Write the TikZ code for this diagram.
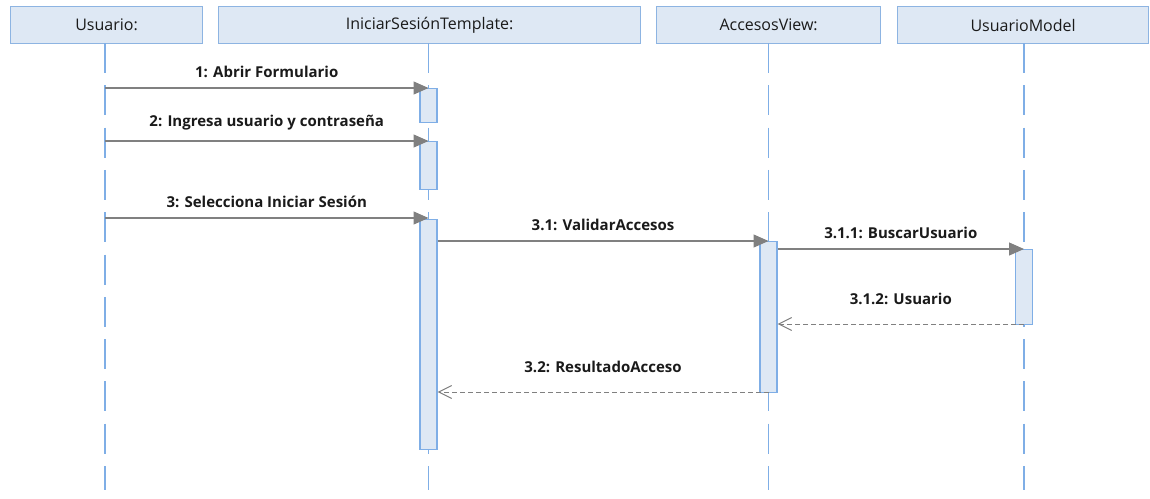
\documentclass[tikz,border=0pt]{standalone}
\usepackage{fontspec}
\setmainfont{Open Sans}
\usetikzlibrary{arrows.meta}
\definecolor{hdrfill}{HTML}{DEE8F4}
\definecolor{hdrline}{HTML}{8DB4E2}
\definecolor{lifeblue}{HTML}{7FAEE6}
\definecolor{msggray}{HTML}{808080}
\definecolor{txt}{HTML}{1A1A1A}
\tikzset{
  hdr/.style={draw=hdrline, fill=hdrfill, line width=1.2pt, minimum height=37pt, inner sep=0pt, anchor=north west, font=\fontsize{16}{18}\selectfont, text=txt},
  life/.style={draw=lifeblue, line width=1.2pt, dash pattern=on 30pt off 12.3pt},
  actbox/.style={draw=lifeblue, fill=hdrfill, line width=1.2pt, minimum width=17pt, inner sep=0pt, anchor=north},
  call/.style={draw=msggray, line width=1.2pt, -{Triangle[length=15pt,width=13pt,fill=msggray]}},
  reply/.style={draw=msggray, line width=1pt, dash pattern=on 5pt off 3pt, -{Straight Barb[length=13pt,width=13pt,line width=1pt]}},
  lbl/.style={font=\fontsize{15}{17}\bfseries\selectfont, text=txt, inner sep=0pt}
}
\begin{document}
\begin{tikzpicture}[x=1pt,y=-1pt]
\useasboundingbox (0,0) rectangle (1150,498);
% headers
\node[hdr, minimum width=192pt] (hU) at (10,6) {Usuario:};
\node[hdr, minimum width=422pt] (hI) at (218,6) {IniciarSesiónTemplate:};
\node[hdr, minimum width=224pt] (hA) at (656,6) {AccesosView:};
\node[hdr, minimum width=251pt] (hM) at (897,6) {UsuarioModel};
% lifeline ends
\coordinate (eU) at (105,490);
\coordinate (eI) at (428.5,490);
\coordinate (eA) at (768.5,490);
\coordinate (eM) at (1024,490);
\coordinate (sU) at (105,43);
\coordinate (sI) at (428.5,43);
\coordinate (sA) at (768.5,43);
\coordinate (sM) at (1024,43);
\draw[life] (sU) -- (eU);
\draw[life] (sI) -- (eI);
\draw[life] (sA) -- (eA);
\draw[life] (sM) -- (eM);
% activations
\node[actbox, minimum height=34pt] (a1) at (428.5,88) {};
\node[actbox, minimum height=48pt] (a2) at (428.5,141) {};
\node[actbox, minimum height=230pt] (a3) at (428.5,219) {};
\node[actbox, minimum height=151pt] (aA) at (768.5,241) {};
\node[actbox, minimum height=75pt] (aM) at (1024,249) {};
% message points
\coordinate (m1s) at (105,88);   \coordinate (m1e) at (428.5,88);
\coordinate (m2s) at (105,141);  \coordinate (m2e) at (428.5,141);
\coordinate (m3s) at (105,218);  \coordinate (m3e) at (428.5,218);
\coordinate (m31s) at (a3.east |- 0,241); \coordinate (m31e) at (768.5,241);
\coordinate (m311s) at (aA.east |- 0,249); \coordinate (m311e) at (1024,249);
\coordinate (m312s) at (1024,324); \coordinate (m312e) at (aA.east |- 0,324);
\coordinate (m32s) at (768.5,392); \coordinate (m32e) at (a3.east |- 0,392);
\draw[call] (m1s) -- node[lbl, above=10pt] {1: Abrir Formulario} (m1e);
\draw[call] (m2s) -- node[lbl, above=10pt] {2: Ingresa usuario y contraseña} (m2e);
\draw[call] (m3s) -- node[lbl, above=10pt] {3: Selecciona Iniciar Sesión} (m3e);
\draw[call] (m31s) -- node[lbl, above=10pt] {3.1: ValidarAccesos} (m31e);
\draw[call] (m311s) -- node[lbl, above=10pt] {3.1.1: BuscarUsuario} (m311e);
\draw[reply] (m312s) -- node[lbl, above=19pt] {3.1.2: Usuario} (m312e);
\draw[reply] (m32s) -- node[lbl, above=19pt] {3.2: ResultadoAcceso} (m32e);
\end{tikzpicture}
\end{document}
